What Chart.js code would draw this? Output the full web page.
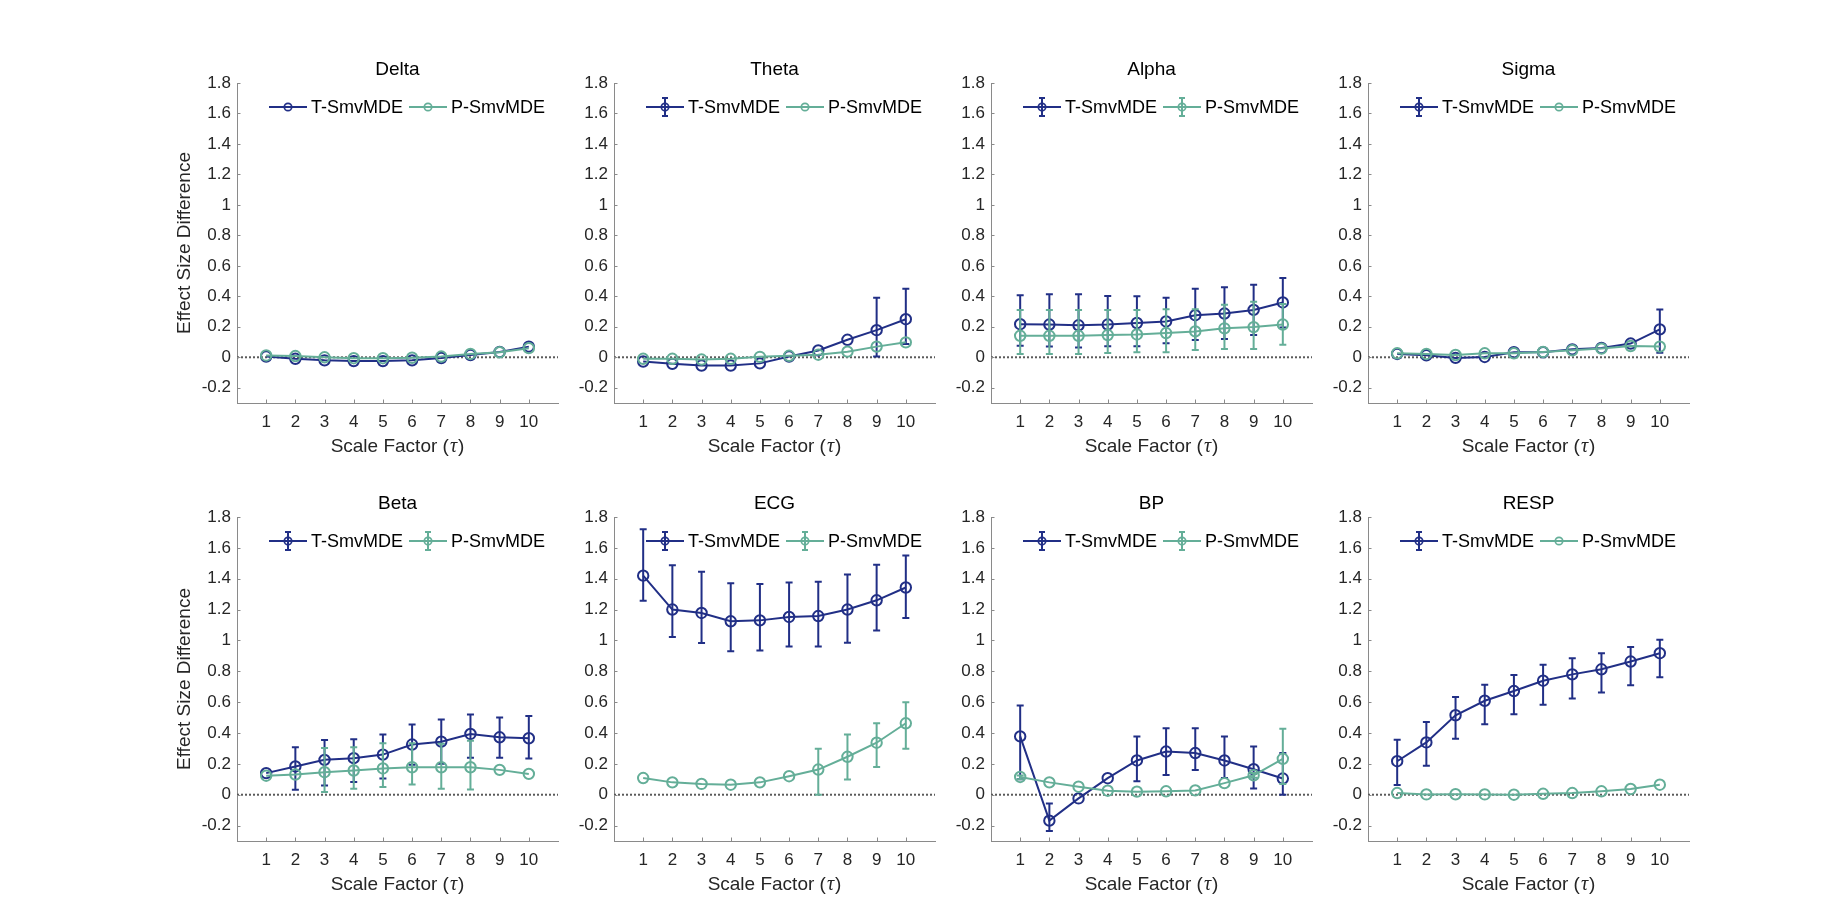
<!DOCTYPE html>
<html>
<head>
<meta charset="utf-8">
<script src="https://cdn.jsdelivr.net/npm/chart.js@4.4.1/dist/chart.umd.min.js"></script>
<style>
  html, body { margin: 0; padding: 0; background: #fff; }
  #page { position: relative; width: 1827px; height: 916px; overflow: hidden; background: #fff; }
  #page canvas { position: absolute; }
</style>
</head>
<body>
<div id="page"></div>
<script>
// ---- data ----
const scaleFactors = [1, 2, 3, 4, 5, 6, 7, 8, 9, 10];
const xTickVals = [1, 2, 3, 4, 5, 6, 7, 8, 9, 10];
const yTickVals = [-0.2, 0, 0.2, 0.4, 0.6, 0.8, 1, 1.2, 1.4, 1.6, 1.8];
const yTickLabels = ["-0.2", "0", "0.2", "0.4", "0.6", "0.8", "1", "1.2", "1.4", "1.6", "1.8"];
const panelNames = ["Delta", "Theta", "Alpha", "Sigma", "Beta", "ECG", "BP", "RESP"];

const deltaT = [0.005, -0.01, -0.02, -0.025, -0.025, -0.02, -0.005, 0.015, 0.035, 0.07];
const deltaP = [0.012, 0.008, 0.0, -0.006, -0.006, -0.003, 0.005, 0.022, 0.033, 0.06];

const thetaT   = [-0.028, -0.043, -0.054, -0.054, -0.04, 0.005, 0.045, 0.115, 0.178, 0.25];
const thetaTLo = [-0.028, -0.043, -0.054, -0.054, -0.04, 0.005, 0.045, 0.115, 0.005, 0.087];
const thetaTHi = [-0.028, -0.043, -0.054, -0.054, -0.04, 0.005, 0.045, 0.115, 0.39, 0.45];
const thetaP   = [-0.01, -0.01, -0.015, -0.01, 0.003, 0.01, 0.017, 0.037, 0.07, 0.098];

const alphaT   = [0.217, 0.215, 0.21, 0.215, 0.225, 0.235, 0.276, 0.287, 0.311, 0.36];
const alphaTLo = [0.076, 0.07, 0.065, 0.072, 0.072, 0.092, 0.113, 0.12, 0.146, 0.196];
const alphaTHi = [0.407, 0.413, 0.413, 0.402, 0.4, 0.39, 0.45, 0.46, 0.476, 0.52];
const alphaP   = [0.141, 0.141, 0.141, 0.146, 0.15, 0.159, 0.17, 0.19, 0.198, 0.215];
const alphaPLo = [0.022, 0.022, 0.022, 0.028, 0.033, 0.033, 0.048, 0.054, 0.054, 0.083];
const alphaPHi = [0.31, 0.31, 0.31, 0.31, 0.31, 0.315, 0.315, 0.345, 0.365, 0.35];

const sigmaT   = [0.022, 0.013, -0.004, 0.002, 0.033, 0.033, 0.052, 0.061, 0.09, 0.183];
const sigmaTLo = [0.022, 0.013, -0.004, 0.002, 0.033, 0.033, 0.052, 0.061, 0.09, 0.03];
const sigmaTHi = [0.022, 0.013, -0.004, 0.002, 0.033, 0.033, 0.052, 0.061, 0.09, 0.313];
const sigmaP   = [0.026, 0.022, 0.015, 0.026, 0.026, 0.035, 0.046, 0.057, 0.074, 0.07];

const betaT   = [0.14, 0.183, 0.226, 0.237, 0.26, 0.325, 0.344, 0.394, 0.372, 0.366];
const betaTLo = [0.14, 0.032, 0.06, 0.082, 0.105, 0.195, 0.2, 0.239, 0.239, 0.234];
const betaTHi = [0.14, 0.308, 0.355, 0.36, 0.39, 0.455, 0.488, 0.52, 0.5, 0.51];
const betaP   = [0.123, 0.131, 0.146, 0.157, 0.17, 0.178, 0.178, 0.178, 0.161, 0.135];
const betaPLo = [0.123, 0.131, 0.017, 0.039, 0.05, 0.067, 0.039, 0.034, 0.161, 0.135];
const betaPHi = [0.123, 0.131, 0.303, 0.307, 0.333, 0.333, 0.33, 0.35, 0.161, 0.135];

const ecgT   = [1.42, 1.2, 1.178, 1.124, 1.13, 1.152, 1.158, 1.2, 1.26, 1.343];
const ecgTLo = [1.257, 1.022, 0.983, 0.93, 0.935, 0.96, 0.96, 0.985, 1.065, 1.146];
const ecgTHi = [1.72, 1.487, 1.445, 1.37, 1.365, 1.376, 1.38, 1.428, 1.49, 1.55];
const ecgP   = [0.108, 0.08, 0.07, 0.065, 0.08, 0.12, 0.163, 0.246, 0.337, 0.463];
const ecgPLo = [0.108, 0.08, 0.07, 0.065, 0.08, 0.12, 0.0, 0.098, 0.18, 0.298];
const ecgPHi = [0.108, 0.08, 0.07, 0.065, 0.08, 0.12, 0.298, 0.39, 0.463, 0.6];

const bpT   = [0.378, -0.168, -0.024, 0.107, 0.222, 0.28, 0.27, 0.222, 0.165, 0.105];
const bpTLo = [0.1, -0.235, -0.024, 0.107, 0.087, 0.128, 0.16, 0.108, 0.041, 0.0];
const bpTHi = [0.578, -0.057, -0.024, 0.107, 0.378, 0.43, 0.43, 0.378, 0.313, 0.27];
const bpP   = [0.115, 0.08, 0.052, 0.026, 0.02, 0.022, 0.028, 0.075, 0.126, 0.233];
const bpPLo = [0.1, 0.08, 0.052, 0.026, 0.02, 0.022, 0.028, 0.075, 0.11, 0.07];
const bpPHi = [0.125, 0.08, 0.052, 0.026, 0.02, 0.022, 0.028, 0.075, 0.14, 0.428];

const respT   = [0.217, 0.339, 0.515, 0.609, 0.672, 0.739, 0.78, 0.813, 0.863, 0.917];
const respTLo = [0.063, 0.187, 0.363, 0.457, 0.522, 0.583, 0.624, 0.663, 0.709, 0.761];
const respTHi = [0.357, 0.472, 0.633, 0.713, 0.776, 0.843, 0.885, 0.917, 0.957, 1.004];
const respP   = [0.011, 0.002, 0.003, 0.002, 0.0, 0.006, 0.011, 0.022, 0.037, 0.065];

const panels = [
  { t: deltaT, tLo: null, tHi: null, p: deltaP, pLo: null, pHi: null },
  { t: thetaT, tLo: thetaTLo, tHi: thetaTHi, p: thetaP, pLo: null, pHi: null },
  { t: alphaT, tLo: alphaTLo, tHi: alphaTHi, p: alphaP, pLo: alphaPLo, pHi: alphaPHi },
  { t: sigmaT, tLo: sigmaTLo, tHi: sigmaTHi, p: sigmaP, pLo: null, pHi: null },
  { t: betaT, tLo: betaTLo, tHi: betaTHi, p: betaP, pLo: betaPLo, pHi: betaPHi },
  { t: ecgT, tLo: ecgTLo, tHi: ecgTHi, p: ecgP, pLo: ecgPLo, pHi: ecgPHi },
  { t: bpT, tLo: bpTLo, tHi: bpTHi, p: bpP, pLo: bpPLo, pHi: bpPHi },
  { t: respT, tLo: respTLo, tHi: respTHi, p: respP, pLo: null, pHi: null },
];

// ---- layout / style ----
const NAVY = "#212f86";
const TEAL = "#64ae98";
const AXIS = "#8a8a8a";
const TEXT = "#262626";
const FONT = '"Liberation Sans", Arial, sans-serif';

const colX = [237, 614, 991, 1368];
const rowTop = [83, 517];
const rowH = [320, 324];
const plotW = 321;
const PAD_L = 100, PAD_R = 25, PAD_T = 60, PAD_B = 80;

const page = document.getElementById("page");

function drawErrorBars(ctx, chart, lo, hi, color) {
  const xs = chart.scales.x, ys = chart.scales.y;
  ctx.save();
  ctx.strokeStyle = color;
  ctx.lineWidth = 2;
  lo.forEach((l, k) => {
    const h = hi[k];
    if (h - l < 0.002) return;
    const px = xs.getPixelForValue(scaleFactors[k]);
    const yl = ys.getPixelForValue(l), yh = ys.getPixelForValue(h);
    ctx.beginPath();
    ctx.moveTo(px, yl); ctx.lineTo(px, yh);
    ctx.moveTo(px - 3.5, yl); ctx.lineTo(px + 3.5, yl);
    ctx.moveTo(px - 3.5, yh); ctx.lineTo(px + 3.5, yh);
    ctx.stroke();
  });
  ctx.restore();
}

function drawLegendItem(ctx, x, y, color, hasErr, text) {
  ctx.save();
  ctx.strokeStyle = color;
  ctx.lineWidth = 2;
  ctx.beginPath();
  ctx.moveTo(x, y); ctx.lineTo(x + 38, y);
  const cx = x + 19;
  if (hasErr) {
    ctx.moveTo(cx, y - 9); ctx.lineTo(cx, y + 9);
    ctx.moveTo(cx - 3, y - 9); ctx.lineTo(cx + 3, y - 9);
    ctx.moveTo(cx - 3, y + 9); ctx.lineTo(cx + 3, y + 9);
  }
  ctx.stroke();
  ctx.lineWidth = 1.7;
  ctx.beginPath();
  ctx.arc(cx, y, 3.7, 0, Math.PI * 2);
  ctx.stroke();
  ctx.fillStyle = "#000";
  ctx.font = "18px " + FONT;
  ctx.textBaseline = "middle";
  ctx.textAlign = "left";
  ctx.fillText(text, x + 42, y + 1);
  ctx.restore();
}

const decorPlugin = {
  id: "decor",
  beforeDatasetsDraw(chart) {
    const { ctx, chartArea } = chart;
    const y0 = chart.scales.y.getPixelForValue(0);
    ctx.save();
    ctx.strokeStyle = "#5a5a5a";
    ctx.lineWidth = 2;
    ctx.setLineDash([2, 2]);
    ctx.beginPath();
    ctx.moveTo(chartArea.left, y0);
    ctx.lineTo(chartArea.right, y0);
    ctx.stroke();
    ctx.restore();
  },
  beforeDatasetDraw(chart, args) {
    const ds = chart.data.datasets[args.index];
    if (ds.errLo) drawErrorBars(chart.ctx, chart, ds.errLo, ds.errHi, ds.borderColor);
  },
  afterDraw(chart, args, opts) {
    const { ctx, chartArea } = chart;
    const xs = chart.scales.x, ys = chart.scales.y;
    const cx = (chartArea.left + chartArea.right) / 2;
    ctx.save();
    // inward tick marks
    ctx.strokeStyle = AXIS;
    ctx.lineWidth = 1;
    ctx.beginPath();
    xTickVals.forEach(v => {
      const px = Math.round(xs.getPixelForValue(v)) + 0.5;
      ctx.moveTo(px, chartArea.bottom); ctx.lineTo(px, chartArea.bottom - 3.5);
    });
    yTickVals.forEach(v => {
      const py = Math.round(ys.getPixelForValue(v)) + 0.5;
      ctx.moveTo(chartArea.left, py); ctx.lineTo(chartArea.left + 3.5, py);
    });
    ctx.stroke();

    // title
    ctx.fillStyle = "#000";
    ctx.font = "19px " + FONT;
    ctx.textAlign = "center";
    ctx.textBaseline = "alphabetic";
    ctx.fillText(opts.title, cx, chartArea.top - 8.5);

    // x label with italic tau
    ctx.fillStyle = TEXT;
    const a = "Scale Factor (", t = "\u03c4", b = ")";
    ctx.font = "19px " + FONT;
    const wa = ctx.measureText(a).width, wb = ctx.measureText(b).width;
    ctx.font = 'italic 20px "Liberation Serif", serif';
    const wt = ctx.measureText(t).width + 2;
    let x = cx - (wa + wt + wb) / 2;
    const yb = chartArea.bottom + 49;
    ctx.textAlign = "left";
    ctx.font = "19px " + FONT;
    ctx.fillText(a, x, yb);
    ctx.font = 'italic 20px "Liberation Serif", serif';
    ctx.fillText(t, x + wa + 1, yb);
    ctx.font = "19px " + FONT;
    ctx.fillText(b, x + wa + wt, yb);

    // y label
    if (opts.yLabel) {
      ctx.translate(chartArea.left - 52, (chartArea.top + chartArea.bottom) / 2);
      ctx.rotate(-Math.PI / 2);
      ctx.textAlign = "center";
      ctx.textBaseline = "middle";
      ctx.fillText("Effect Size Difference", 0, 0);
    }
    ctx.restore();

    // legend
    const ly = chartArea.top + 24;
    drawLegendItem(ctx, chartArea.left + 32, ly, NAVY, opts.tErr, "T-SmvMDE");
    drawLegendItem(ctx, chartArea.left + 172, ly, TEAL, opts.pErr, "P-SmvMDE");
  },
};

function seriesPoints(vals) {
  return scaleFactors.map((x, i) => ({ x, y: vals[i] }));
}

panels.forEach((panel, idx) => {
  const col = idx % 4, row = Math.floor(idx / 4);
  const W = PAD_L + plotW + PAD_R;
  const H = PAD_T + rowH[row] + PAD_B;
  const canvas = document.createElement("canvas");
  canvas.width = W; canvas.height = H;
  canvas.style.left = (colX[col] - PAD_L) + "px";
  canvas.style.top = (rowTop[row] - PAD_T) + "px";
  canvas.style.width = W + "px";
  canvas.style.height = H + "px";
  page.appendChild(canvas);

  const common = {
    showLine: true,
    borderWidth: 2,
    pointRadius: 5.2,
    pointBorderWidth: 2,
    pointBackgroundColor: "rgba(0,0,0,0)",
    pointHoverRadius: 5.2,
    tension: 0,
    clip: false,
  };

  new Chart(canvas, {
    type: "line",
    data: {
      datasets: [
        Object.assign({}, common, {
          label: "P-SmvMDE", data: seriesPoints(panel.p), borderColor: TEAL,
          pointBorderColor: TEAL, order: 1, errLo: panel.pLo, errHi: panel.pHi,
        }),
        Object.assign({}, common, {
          label: "T-SmvMDE", data: seriesPoints(panel.t), borderColor: NAVY,
          pointBorderColor: NAVY, order: 2, errLo: panel.tLo, errHi: panel.tHi,
        }),
      ],
    },
    options: {
      responsive: false,
      animation: false,
      events: [],
      layout: { padding: { left: 0, right: PAD_R, top: PAD_T, bottom: 0 }, autoPadding: false },
      plugins: {
        legend: { display: false },
        tooltip: { enabled: false },
        decor: { title: panelNames[idx], yLabel: col === 0, tErr: !!panel.tLo, pErr: !!panel.pLo },
      },
      scales: {
        x: {
          type: "linear",
          min: 0, max: 11,
          afterBuildTicks: (s) => { s.ticks = xTickVals.map(v => ({ value: v })); },
          afterFit: (s) => { s.height = PAD_B; },
          grid: { display: true, drawOnChartArea: false, drawTicks: false },
          border: { display: true, color: AXIS, width: 1 },
          ticks: {
            autoSkip: false, maxRotation: 0, padding: 9, color: TEXT,
            font: { family: FONT, size: 17 },
            callback: (v) => String(v),
          },
        },
        y: {
          type: "linear",
          min: -0.3, max: 1.8,
          afterBuildTicks: (s) => { s.ticks = yTickVals.map(v => ({ value: v })); },
          afterFit: (s) => { s.width = PAD_L; },
          grid: { display: true, drawOnChartArea: false, drawTicks: false },
          border: { display: true, color: AXIS, width: 1 },
          ticks: {
            autoSkip: false, padding: 6, color: TEXT,
            font: { family: FONT, size: 17 },
            callback: (v, i) => yTickLabels[i],
          },
        },
      },
    },
    plugins: [decorPlugin],
  });
});
</script>
</body>
</html>
